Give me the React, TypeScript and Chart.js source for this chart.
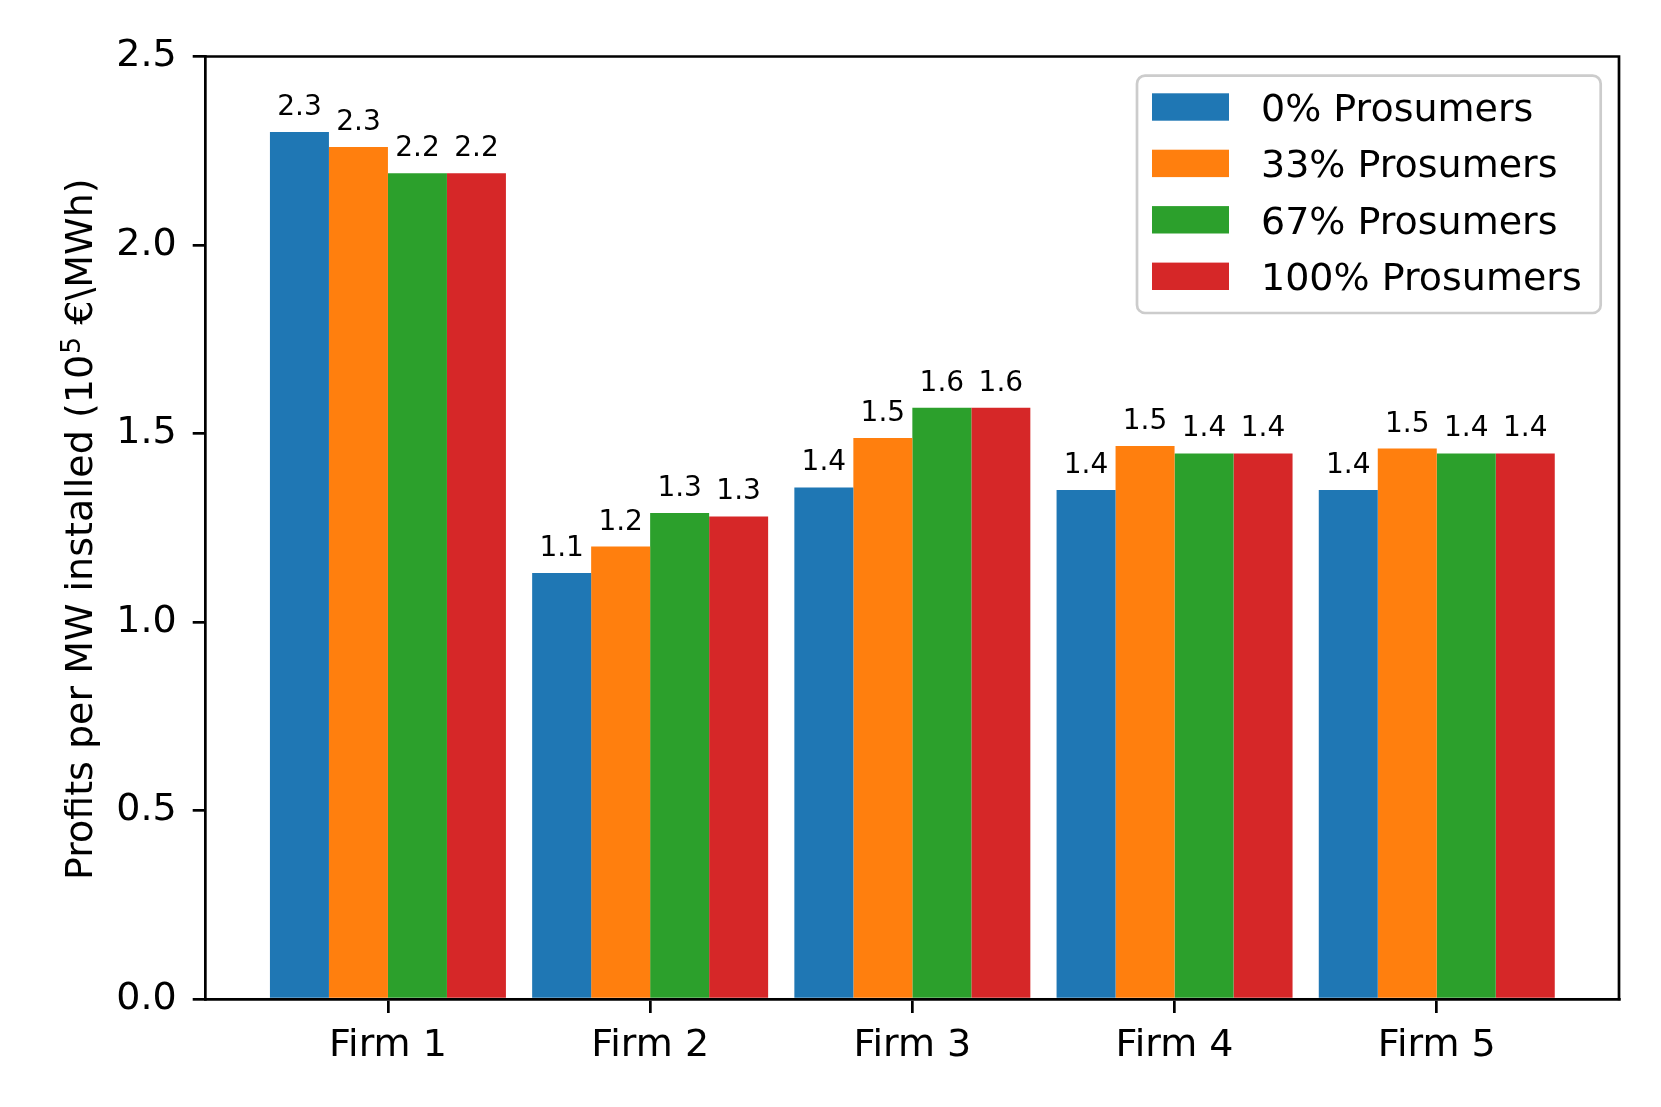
import React, { useEffect, useRef } from "react";
import { Chart, registerables } from "chart.js";

Chart.register(...registerables);

const categories = ["Firm 1", "Firm 2", "Firm 3", "Firm 4", "Firm 5"];
const seriesNames = ["0% Prosumers", "33% Prosumers", "67% Prosumers", "100% Prosumers"];
const prosumers0 = [2.3, 1.13, 1.357, 1.35, 1.35];
const prosumers33 = [2.26, 1.2, 1.488, 1.467, 1.46];
const prosumers67 = [2.19, 1.289, 1.568, 1.447, 1.447];
const prosumers100 = [2.19, 1.28, 1.568, 1.447, 1.447];
const yTicks = [0, 0.5, 1.0, 1.5, 2.0, 2.5];
const colors = ["#1f77b4", "#ff7f0e", "#2ca02c", "#d62728"];

const FONT = "'DejaVu Sans', 'Liberation Sans', sans-serif";
const LW = 2.7;

const framePlugin = {
  id: "frameAndLabels",
  afterDatasetsDraw(chart: any) {
    const ctx = chart.ctx;
    ctx.save();
    ctx.fillStyle = "#000";
    ctx.font = `28px ${FONT}`;
    ctx.textAlign = "center";
    ctx.textBaseline = "alphabetic";
    chart.data.datasets.forEach((ds: any, i: number) => {
      const meta = chart.getDatasetMeta(i);
      meta.data.forEach((el: any, j: number) => {
        const v = ds.data[j].y;
        ctx.fillText(v.toFixed(1), el.x, el.y - 17);
      });
    });
    ctx.restore();
  },
  afterDraw(chart: any) {
    const ctx = chart.ctx;
    const ca = chart.chartArea;
    ctx.save();
    ctx.strokeStyle = "#000";
    ctx.lineWidth = LW;
    ctx.beginPath();
    ctx.moveTo(ca.left - LW / 2, ca.top);
    ctx.lineTo(ca.right, ca.top);
    ctx.lineTo(ca.right, ca.bottom + LW / 2);
    ctx.stroke();

    const lx = 1137, ly = 75.7, lw = 463.7, lh = 237.3;
    ctx.beginPath();
    (ctx as any).roundRect(lx, ly, lw, lh, 8);
    ctx.fillStyle = "rgba(255,255,255,0.8)";
    ctx.fill();
    ctx.strokeStyle = "#cccccc";
    ctx.lineWidth = LW;
    ctx.stroke();
    const centers = [107, 163.4, 219.8, 276.3];
    chart.data.datasets.forEach((ds: any, i: number) => {
      const cy = centers[i];
      ctx.fillStyle = ds.backgroundColor;
      ctx.fillRect(1152, cy - 13.7, 77, 27.4);
      ctx.fillStyle = "#000";
      ctx.font = `38px ${FONT}`;
      ctx.textAlign = "left";
      ctx.textBaseline = "alphabetic";
      ctx.fillText(ds.label, 1261, cy + 14);
    });

    ctx.translate(91.5, (ca.top + ca.bottom) / 2 + 2);
    ctx.rotate(-Math.PI / 2);
    const part1 = "Profits per MW installed (10";
    const sup = "5";
    const part2 = " €\\MWh)";
    ctx.font = `38px ${FONT}`;
    const w1 = ctx.measureText(part1).width;
    const w3 = ctx.measureText(part2).width;
    ctx.font = `27px ${FONT}`;
    const w2 = ctx.measureText(sup).width;
    const total = w1 + w2 + w3;
    let x = -total / 2;
    ctx.fillStyle = "#000";
    ctx.textAlign = "left";
    ctx.textBaseline = "alphabetic";
    ctx.font = `38px ${FONT}`;
    ctx.fillText(part1, x, 0);
    x += w1;
    ctx.font = `27px ${FONT}`;
    ctx.fillText(sup, x + 1, -12);
    x += w2 + 1;
    ctx.font = `38px ${FONT}`;
    ctx.fillText(part2, x, 0);
    ctx.restore();
  },
};

export default function App() {
  const ref = useRef<HTMLCanvasElement>(null);
  useEffect(() => {
    const canvas = ref.current!;
    const series = [prosumers0, prosumers33, prosumers67, prosumers100];
    const chart = new Chart(canvas, {
      type: "bar",
      data: {
        datasets: series.map((vals, i) => ({
          label: seriesNames[i],
          data: vals.map((v, j) => ({ x: j, y: v })),
          backgroundColor: colors[i],
          borderWidth: 0,
          categoryPercentage: 0.9,
          barPercentage: 1.0,
        })),
      },
      options: {
        responsive: false,
        animation: false,
        devicePixelRatio: 1,
        events: [],
        layout: { padding: { left: 0, top: 56.5, right: 42, bottom: 0 } },
        plugins: {
          legend: { display: false },
          tooltip: { enabled: false },
          title: { display: false },
        },
        scales: {
          x: {
            type: "linear",
            min: -0.695,
            max: 4.695,
            offset: false,
            afterBuildTicks: (axis: any) => {
              axis.ticks = categories.map((_, i) => ({ value: i }));
            },
            afterFit: (axis: any) => {
              axis.height = 108;
            },
            grid: {
              display: true,
              drawOnChartArea: false,
              drawTicks: true,
              tickLength: 14,
              color: "#000",
              lineWidth: LW,
              offset: false,
            },
            border: { display: true, color: "#000", width: LW },
            ticks: {
              autoSkip: false,
              maxRotation: 0,
              padding: 10,
              color: "#000",
              font: { size: 38, family: FONT },
              callback: (v: any) => categories[v] ?? "",
            },
          },
          y: {
            type: "linear",
            min: 0,
            max: 2.5,
            afterBuildTicks: (axis: any) => {
              axis.ticks = yTicks.map((v) => ({ value: v }));
            },
            afterFit: (axis: any) => {
              axis.width = 205.7;
            },
            grid: {
              display: true,
              drawOnChartArea: false,
              drawTicks: true,
              tickLength: 13,
              color: "#000",
              lineWidth: LW,
            },
            border: { display: true, color: "#000", width: LW },
            ticks: {
              padding: 16,
              color: "#000",
              font: { size: 38, family: FONT },
              callback: (v: any) => Number(v).toFixed(1),
            },
          },
        },
      },
      plugins: [framePlugin],
    });
    return () => chart.destroy();
  }, []);
  return (
    <div style={{ position: "fixed", left: 0, top: 0, width: 1661, height: 1107, background: "#fff" }}>
      <canvas ref={ref} width={1661} height={1107} style={{ width: 1661, height: 1107, display: "block" }} />
    </div>
  );
}
